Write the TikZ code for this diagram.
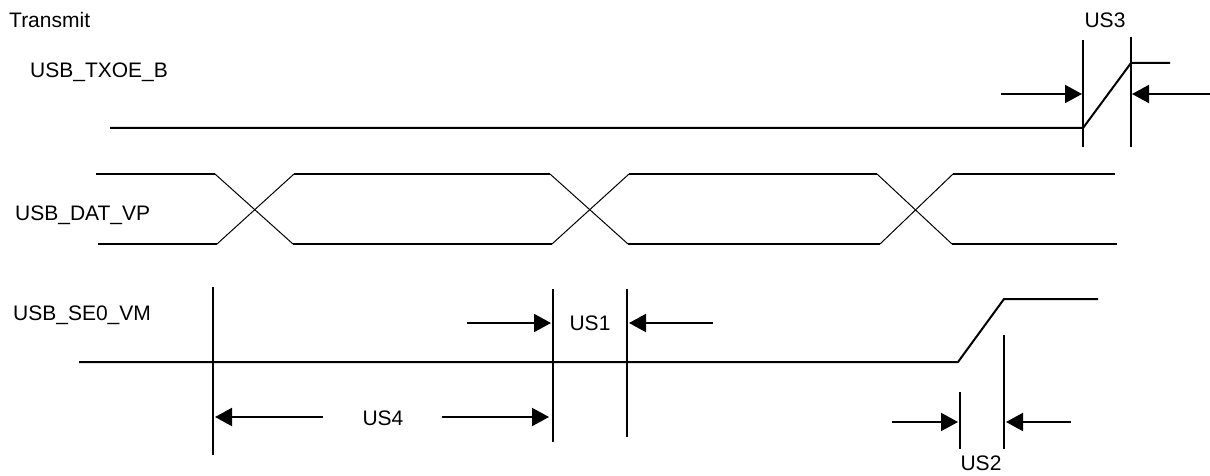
\documentclass[tikz,border=0pt]{standalone}
\usepackage{fontspec}
\setmainfont{Liberation Sans}
\usetikzlibrary{arrows.meta}
\begin{document}
\begin{tikzpicture}[
  x=1pt, y=-1pt,
  every node/.style={font=\fontsize{21}{25}\selectfont, inner sep=0pt},
  sig/.style={line width=2pt},
  edge/.style={line width=1pt},
  mark line/.style={line width=2pt},
  dim/.style={line width=2pt, -{Triangle[length=17pt,width=18pt]}}
]
\useasboundingbox (0,0) rectangle (1210,476);
% labels
\node[anchor=west] (tx) at (9,20) {Transmit};
\node[anchor=west] (txoe) at (30,72) {USB\_TXOE\_B};
\node[anchor=west] (vp) at (15,215) {USB\_DAT\_VP};
\node[anchor=west] (vm) at (13,315) {USB\_SE0\_VM};
\node (us3) at (1105,20) {US3};
\node (us1) at (590,323) {US1};
\node (us4) at (383,418) {US4};
\node (us2) at (981,463) {US2};
% USB_TXOE_B
\draw[sig] (110,128) -- (1083,128) -- (1131,63) -- (1170,63);
\draw[mark line] (1083,40) -- (1083,147);
\draw[mark line] (1131,37) -- (1131,147);
\draw[dim] (1001,94) -- (1082,94);
\draw[dim] (1210,94) -- (1132,94);
% USB_DAT_VP
\draw[sig] (96,174) -- (215,174);
\draw[sig] (98,244) -- (217,244);
\draw[sig] (294,174) -- (550,174);
\draw[sig] (293,244) -- (552,244);
\draw[sig] (629,174) -- (877,174);
\draw[sig] (628,244) -- (880,244);
\draw[sig] (953,174) -- (1115,174);
\draw[sig] (952,244) -- (1117,244);
\draw[edge] (215,174) -- (293,244);
\draw[edge] (217,244) -- (294,174);
\draw[edge] (550,174) -- (628,244);
\draw[edge] (552,244) -- (629,174);
\draw[edge] (877,174) -- (952,244);
\draw[edge] (880,244) -- (953,174);
% USB_SE0_VM
\draw[sig] (79,362) -- (958,362) -- (1004,299) -- (1098,299);
\draw[mark line] (213,287) -- (213,455);
\draw[mark line] (553,289) -- (553,442);
\draw[mark line] (627,289) -- (627,437);
\draw[mark line] (960,392) -- (960,449);
\draw[mark line] (1004,335) -- (1004,449);
\draw[dim] (467,323) -- (551,323);
\draw[dim] (713,323) -- (629,323);
\draw[dim] (323,417) -- (215,417);
\draw[dim] (442,417) -- (549,417);
\draw[dim] (892,422) -- (958,422);
\draw[dim] (1071,422) -- (1006,422);
\end{tikzpicture}
\end{document}
